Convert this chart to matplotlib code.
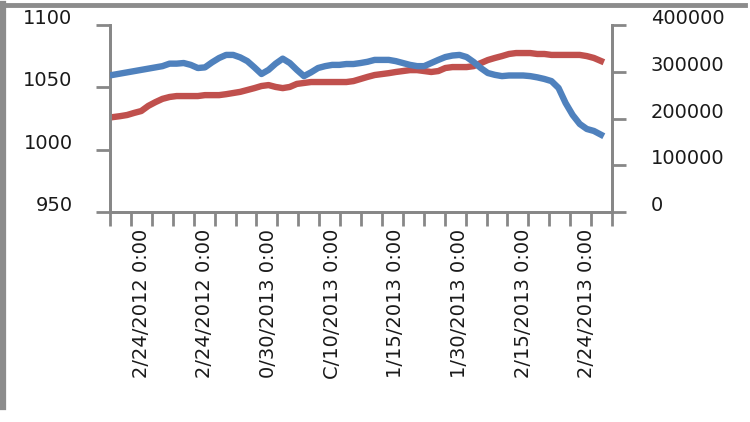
import numpy as np
import matplotlib
matplotlib.use("Agg")
import matplotlib.pyplot as plt
import matplotlib.transforms as mtransforms
from matplotlib.lines import Line2D

blue_vals = [1060, 1061, 1062, 1063, 1064, 1065, 1066, 1067, 1069, 1069,
             1069.5, 1068, 1065.5, 1066, 1070, 1073.5, 1076, 1076, 1074, 1071,
             1066, 1060.7, 1064, 1069, 1073, 1069.5, 1064, 1059, 1062, 1065.5,
             1067, 1068, 1068, 1068.7, 1068.7, 1069.5, 1070.5, 1072, 1072, 1072,
             1071, 1069.5, 1068, 1067, 1067, 1069.5, 1072, 1074.3, 1075.5, 1076,
             1074.3, 1070.3, 1065.5, 1061.5, 1060, 1059, 1059.5, 1059.5, 1059.5, 1059,
             1058, 1056.7, 1055, 1049.5, 1037.4, 1027.8, 1020.6, 1016.6, 1015, 1012]

red_vals = [203000, 205000, 207500, 212000, 216000, 227000, 235000, 242000, 246000, 248000,
            248000, 248000, 248000, 250000, 250000, 250000, 252000, 254500, 257000, 261000,
            265000, 269500, 271500, 267500, 265000, 267500, 274000, 276000, 278000, 278000,
            278000, 278000, 278000, 278000, 280000, 284500, 289000, 293000, 295000, 297000,
            299500, 301500, 303500, 303500, 301500, 299500, 301500, 308000, 310000, 310000,
            310000, 312000, 318500, 325000, 329500, 333500, 338000, 340000, 340000, 340000,
            338000, 338000, 336000, 336000, 336000, 336000, 336000, 333500, 329500, 323000]

x_labels = ["2/24/2012 0:00", "2/24/2012 0:00", "0/30/2013 0:00", "C/10/2013 0:00",
            "1/15/2013 0:00", "1/30/2013 0:00", "2/15/2013 0:00", "2/24/2013 0:00"]
label_idx = [4, 13, 22, 31, 40, 49, 58, 67]

left_ticks = [950, 1000, 1050, 1100]
right_ticks = [0, 100000, 200000, 300000, 400000]

BLUE = "#4F81BD"
RED = "#C0504D"
GRAY = "#878787"

fig = plt.figure(figsize=(7.5, 4.22), dpi=100)
ax = fig.add_axes([110 / 750, 1 - 212 / 422, 502 / 750, 187 / 422])
ax2 = ax.twinx()

x = np.arange(len(blue_vals))
ax.plot(x, blue_vals, color=BLUE, lw=4.6, solid_joinstyle="round", zorder=3)
ax2.plot(x, red_vals, color=RED, lw=4.6, solid_joinstyle="round", zorder=2)
ax.set_zorder(ax2.get_zorder() + 1)
ax.patch.set_visible(False)

xlim = (-0.42, len(x) - 1 + 1.56)
ax.set_xlim(xlim)
ax.set_ylim(950, 1100)
ax2.set_ylim(0, 400000)

for a in (ax, ax2):
    for s in a.spines.values():
        s.set_color(GRAY)
        s.set_linewidth(2)
    a.spines["top"].set_visible(False)

ax.set_yticks(left_ticks)
ax.set_yticklabels([str(v) for v in left_ticks])
ax2.set_yticks(right_ticks)
ax2.set_yticklabels([str(v) for v in right_ticks])

ax.set_xticks(np.linspace(xlim[0], xlim[1], 25), minor=True)
ax.set_xticks(label_idx)
ax.set_xticklabels(x_labels, rotation=90)

ax.tick_params(axis="y", length=10, width=2, color=GRAY, pad=17, labelsize=14)
ax2.tick_params(axis="y", length=10, width=2, color=GRAY, pad=18, labelsize=14)
ax.tick_params(axis="x", which="minor", length=10, width=2, color=GRAY, direction="out")
ax.tick_params(axis="x", which="major", length=0, pad=12, labelsize=14)

up = mtransforms.ScaledTranslation(0, 6 / 72, fig.dpi_scale_trans)
for lab in ax.get_yticklabels() + ax2.get_yticklabels():
    lab.set_transform(lab.get_transform() + up)
    lab.set_color("#1a1a1a")
for lab in ax.get_xticklabels():
    lab.set_color("#1a1a1a")

fig.add_artist(Line2D([0, 745 / 750], [1 - 5 / 422, 1 - 5 / 422],
                      transform=fig.transFigure, color="#8c8c8c", lw=3.5))
fig.add_artist(Line2D([3 / 750, 3 / 750], [1 - 4 / 422, 1 - 407 / 422],
                      transform=fig.transFigure, color="#8c8c8c", lw=4.5))

fig.savefig("out.png", dpi=100)
